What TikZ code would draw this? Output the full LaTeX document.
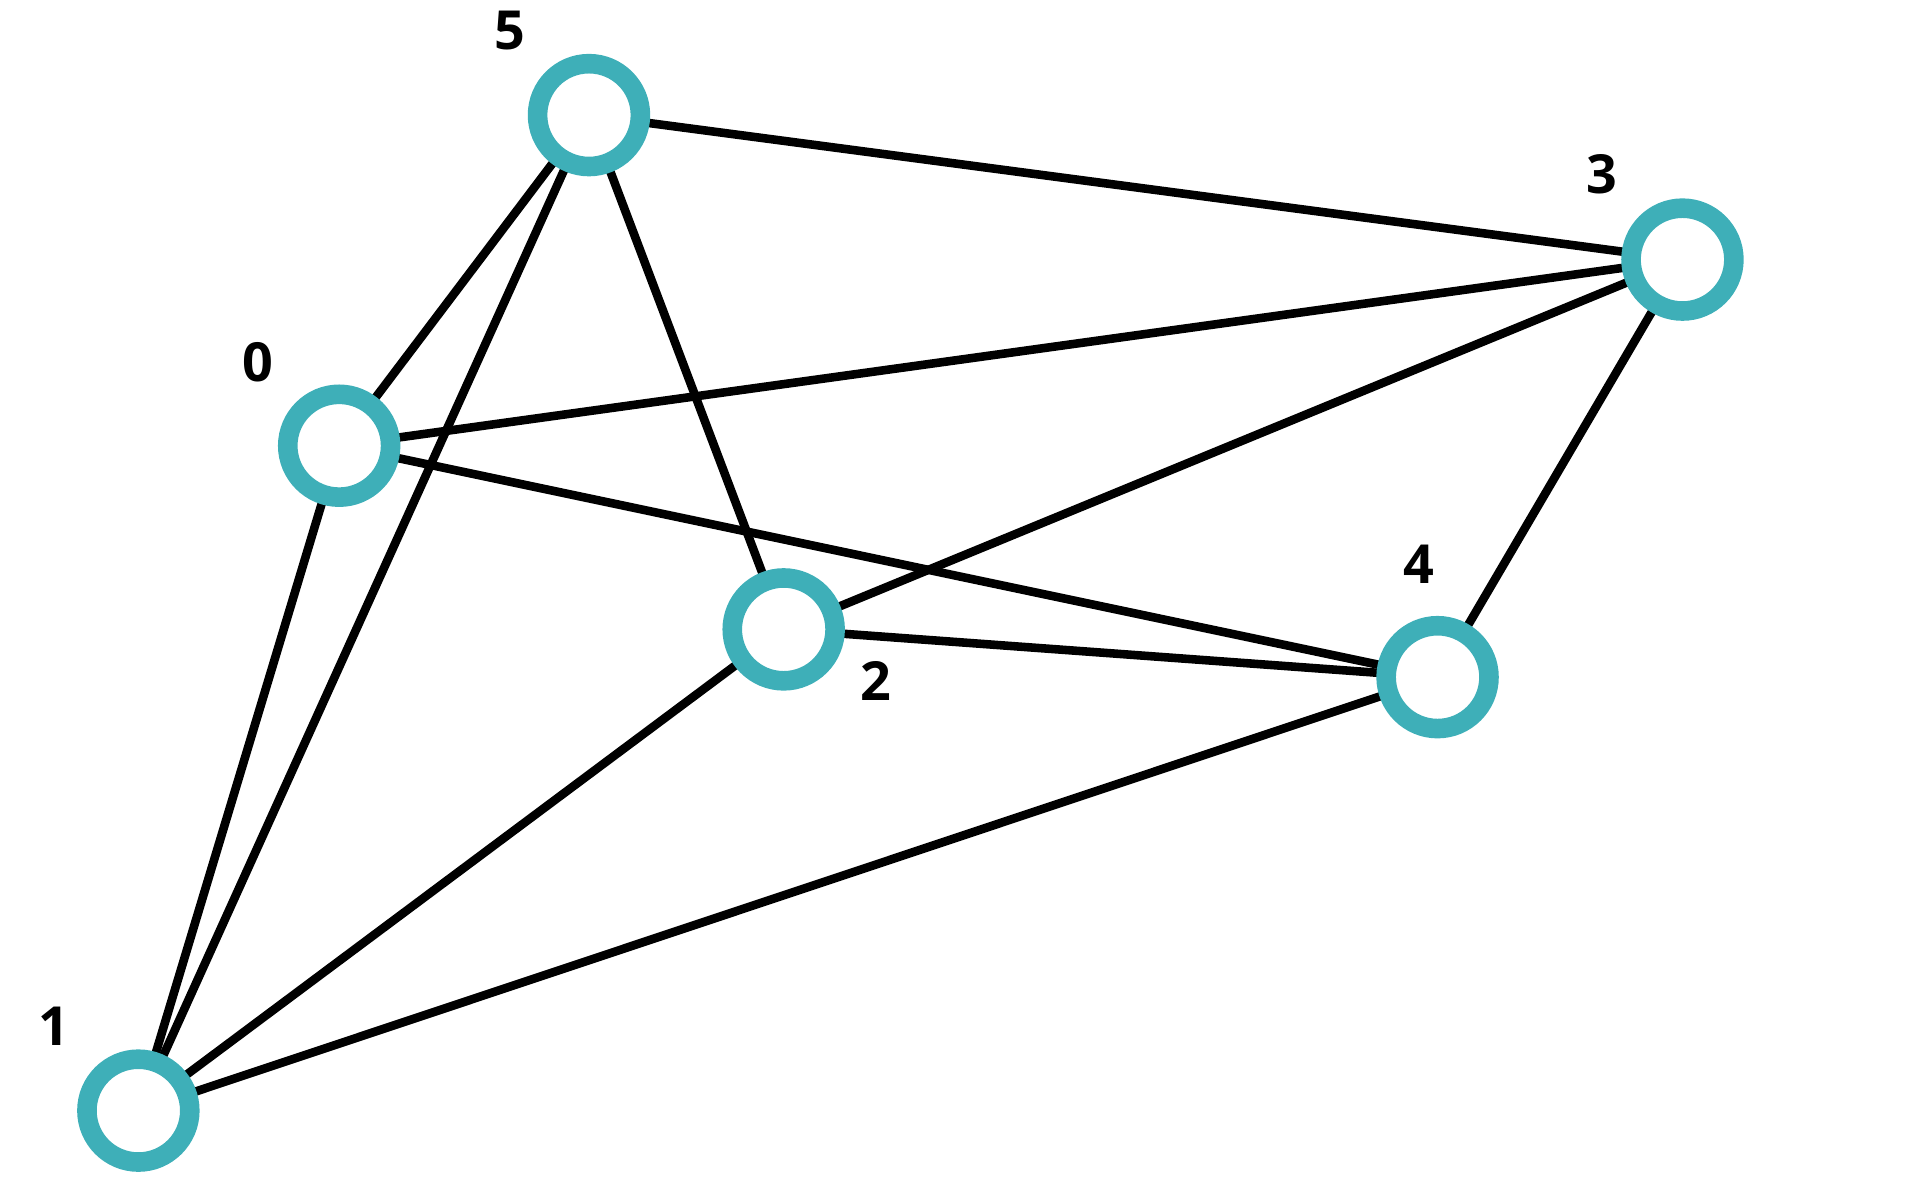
\documentclass[tikz,border=0pt]{standalone}
\usepackage{fontspec}
\setmainfont{Open Sans}
\usetikzlibrary{backgrounds}
\definecolor{ring}{HTML}{3EAFB8}
\begin{document}
\begin{tikzpicture}[x=0.5pt,y=-0.5pt,
  vert/.style={circle,draw=ring,line width=8pt,fill=white,minimum size=42pt,inner sep=0pt},
  lab/.style={font=\fontsize{22}{26}\selectfont\bfseries,inner sep=0pt},
  edge/.style={line width=3.5pt,black}]
\useasboundingbox (0,0) rectangle (1568,980);
\node[vert] (n5) at (481,94) {};
\node[vert] (n3) at (1374,212) {};
\node[vert] (n0) at (277,364) {};
\node[vert] (n2) at (640,514) {};
\node[vert] (n4) at (1174,553) {};
\node[vert] (n1) at (113,907) {};
\node[lab] (l5) at (416,25) {5};
\node[lab] (l3) at (1308,142) {3};
\node[lab] (l0) at (211,296) {0};
\node[lab] (l4) at (1159,461) {4};
\node[lab] (l2) at (715,556) {2};
\node[lab] (l1) at (44,838) {1};
\begin{scope}[on background layer]
\draw[edge] (n5.center) -- (n3.center);
\draw[edge] (n5.center) -- (n0.center);
\draw[edge] (n5.center) -- (n1.center);
\draw[edge] (n5.center) -- (n2.center);
\draw[edge] (n0.center) -- (n3.center);
\draw[edge] (n0.center) -- (n4.center);
\draw[edge] (n0.center) -- (n1.center);
\draw[edge] (n3.center) -- (n2.center);
\draw[edge] (n3.center) -- (n4.center);
\draw[edge] (n2.center) -- (n4.center);
\draw[edge] (n2.center) -- (n1.center);
\draw[edge] (n1.center) -- (n4.center);
\end{scope}
\end{tikzpicture}
\end{document}
